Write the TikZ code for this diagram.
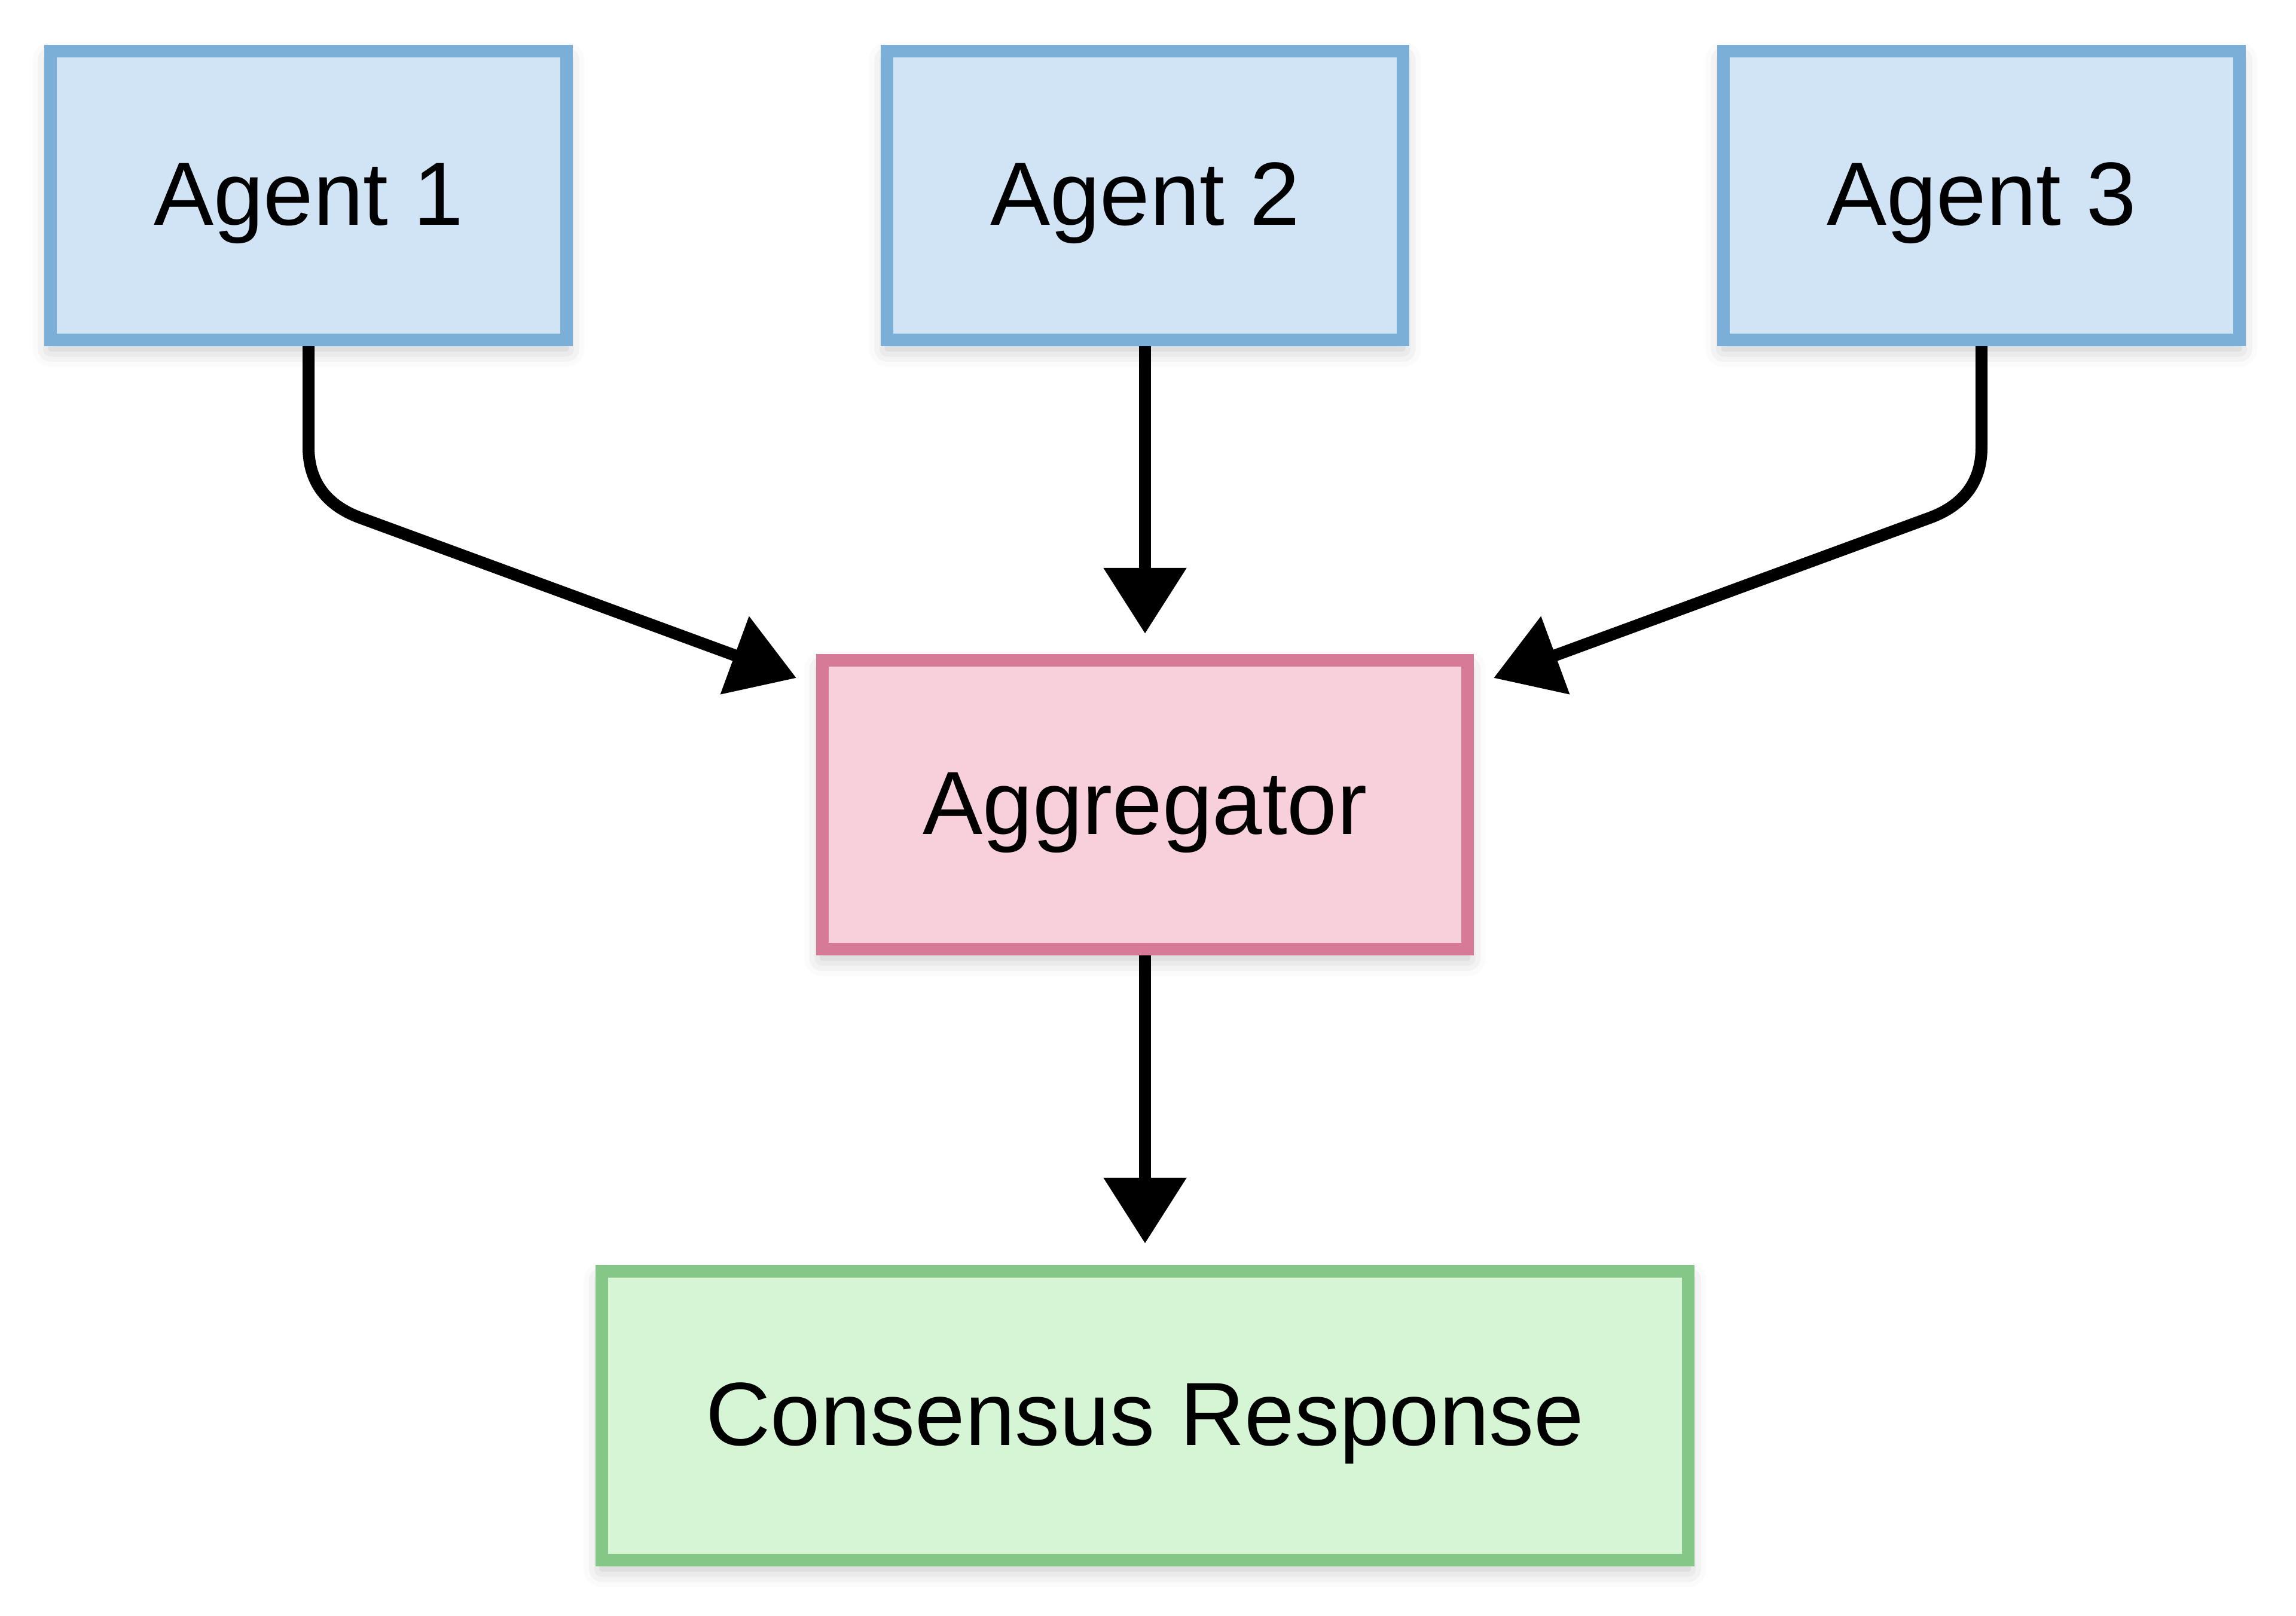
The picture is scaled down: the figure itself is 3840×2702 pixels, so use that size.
\documentclass[tikz,border=0pt]{standalone}
\usepackage{fontspec}
\setmainfont{Liberation Sans}
\usepackage{tikz}
\usetikzlibrary{arrows.meta, shadows.blur}
\usepackage{xcolor}

\definecolor{agentfill}{HTML}{D0E4F5}
\definecolor{agentline}{HTML}{7BAFD8}
\definecolor{aggfill}{HTML}{F8D0DC}
\definecolor{aggline}{HTML}{D67A98}
\definecolor{consfill}{HTML}{D5F5D5}
\definecolor{consline}{HTML}{84C786}

\begin{document}
\begin{tikzpicture}[x=0.01cm, y=-0.01cm,
  box/.style={rectangle, line width=0.21cm, minimum height=4.83cm,
    text height=36.7pt, text depth=8.5pt,
    font=\fontsize{42.7pt}{50pt}\selectfont,
    blur shadow={shadow xshift=0pt, shadow yshift=-0.15cm,
      shadow blur radius=0.3cm, shadow opacity=25}},
  agent/.style={box, fill=agentfill, draw=agentline, minimum width=8.62cm},
  aggbox/.style={box, fill=aggfill, draw=aggline, minimum width=10.79cm},
  consbox/.style={box, fill=consfill, draw=consline, minimum width=18.16cm},
  flow/.style={line width=0.2cm, -{Triangle[length=1.1cm, width=1.34cm]}}]
  \useasboundingbox (0, 0) rectangle (3840, 2702);

  \node[agent] (a1) at (516, 327) {Agent 1};
  \node[agent] (a2) at (1915, 327) {Agent 2};
  \node[agent] (a3) at (3314, 327) {Agent 3};
  \node[aggbox] (agg) at (1915, 1346) {Aggregator};
  \node[consbox] (cons) at (1915, 2368) {Consensus Response};

  \coordinate (in1) at (1332, 1134);
  \coordinate (in3) at (2498, 1134);

  \draw[flow] (a1.south) -- (516, 748) .. controls (516, 806) and (546, 846) .. (605, 867) -- (in1);
  \draw[flow, shorten >=0.34cm] (a2.south) -- (agg.north);
  \draw[flow] (a3.south) -- (3314, 748) .. controls (3314, 806) and (3284, 846) .. (3225, 867) -- (in3);
  \draw[flow, shorten >=0.36cm] (agg.south) -- (cons.north);
\end{tikzpicture}
\end{document}
